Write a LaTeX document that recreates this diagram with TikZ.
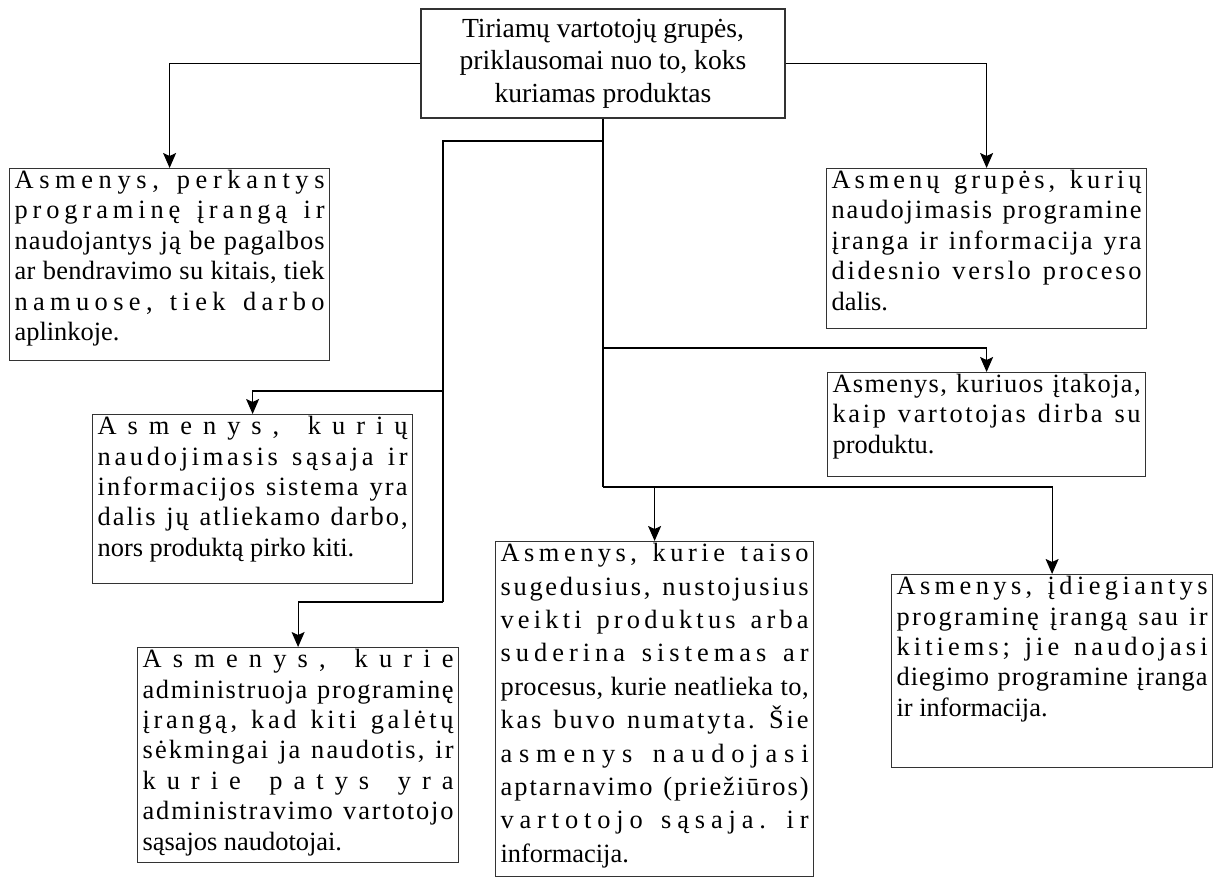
\documentclass[tikz,border=0pt]{standalone}
\usepackage{fontspec}
\setmainfont{Liberation Serif}
\usetikzlibrary{arrows.meta}

% A row of a justified paragraph: the extra room is shared out evenly
% between all characters (letters and spaces alike).
\ExplSyntaxOn
\tl_new:N \l__row_body_tl
\seq_new:N \l__row_words_seq
\bool_new:N \l__row_firstword_bool
\bool_new:N \l__row_firstchar_bool
\cs_new_protected:Npn \spreadrow #1
  {
    \tl_clear:N \l__row_body_tl
    \bool_set_true:N \l__row_firstword_bool
    \seq_set_split:Nnn \l__row_words_seq { ~ } { #1 }
    \seq_map_inline:Nn \l__row_words_seq
      {
        \bool_if:NF \l__row_firstword_bool
          { \tl_put_right:Nn \l__row_body_tl { \hfil \c_space_tl \hfil } }
        \bool_set_false:N \l__row_firstword_bool
        \bool_set_true:N \l__row_firstchar_bool
        \tl_map_inline:nn { ##1 }
          {
            \bool_if:NF \l__row_firstchar_bool
              { \tl_put_right:Nn \l__row_body_tl { \hfil } }
            \bool_set_false:N \l__row_firstchar_bool
            \tl_put_right:Nn \l__row_body_tl { ####1 }
          }
      }
    \hbox_to_wd:nn { \linewidth } { \rowstrut \l__row_body_tl }
  }
\ExplSyntaxOff
\newcommand\rowstrut{\rule{0pt}{10pt}}
\newcommand\plainrow[1]{\hbox to \linewidth{\rowstrut#1\hfil}}

\begin{document}
\begin{tikzpicture}[x=0.5pt,y=-0.5pt,
  wire/.style={line width=0.6pt, draw=black},
  arr/.style={wire, -{Stealth[length=7.5pt,width=6.5pt,inset=1.5pt]}},
  group/.style={draw=black!80, line width=0.6pt, inner xsep=2.5pt, inner ysep=0pt,
    anchor=north west, font=\fontsize{13.2}{15.2}\selectfont},
  rootbox/.style={draw=black!80, line width=0.6pt, minimum width=182pt,
    minimum height=54.5pt, inner sep=0pt, align=center,
    font=\fontsize{13.8}{15.2}\selectfont}]
\useasboundingbox (0,0) rectangle (1221,877);

% root of the tree
\node[rootbox] (top) at (603,63.5)
  {Tiriamų vartotojų grupės,\\[1pt]priklausomai nuo to, koks\\[1pt]kuriamas produktas};

% user groups
\node[group] (b1) at (9,168) {\parbox[c][96pt][t]{155pt}{%
  \spreadrow{Asmenys, perkantys}
  \spreadrow{programinę įrangą ir}
  \spreadrow{naudojantys ją be pagalbos}
  \spreadrow{ar bendravimo su kitais, tiek}
  \spreadrow{namuose, tiek darbo}
  \plainrow{aplinkoje.}}};

\node[group] (bR) at (826,168) {\parbox[c][80pt][t]{155pt}{%
  \spreadrow{Asmenų grupės, kurių}
  \spreadrow{naudojimasis programine}
  \spreadrow{įranga ir informacija yra}
  \spreadrow{didesnio verslo proceso}
  \plainrow{dalis.}}};

\node[group] (b2) at (92,414) {\parbox[c][84.5pt][t]{155pt}{%
  \spreadrow{Asmenys, kurių}
  \spreadrow{naudojimasis sąsaja ir}
  \spreadrow{informacijos sistema yra}
  \spreadrow{dalis jų atliekamo darbo,}
  \plainrow{nors produktą pirko kiti.}}};

\node[group] (b3) at (137,647) {\parbox[c][107.5pt][t]{155.5pt}{%
  \spreadrow{Asmenys, kurie}
  \spreadrow{administruoja programinę}
  \spreadrow{įrangą, kad kiti galėtų}
  \spreadrow{sėkmingai ja naudotis, ir}
  \spreadrow{kurie patys yra}
  \spreadrow{administravimo vartotojo}
  \plainrow{sąsajos naudotojai.}}};

\node[group] (b4) at (827,372) {\parbox[c][52pt][t]{154pt}{%
  \spreadrow{Asmenys, kuriuos įtakoja,}
  \spreadrow{kaip vartotojas dirba su}
  \plainrow{produktu.}}};

\node[group, font=\fontsize{13.2}{16.7}\selectfont] (b5) at (495,541)
  {\parbox[c][167.5pt][t]{154pt}{%
  \spreadrow{Asmenys, kurie taiso}
  \spreadrow{sugedusius, nustojusius}
  \spreadrow{veikti produktus arba}
  \spreadrow{suderina sistemas ar}
  \spreadrow{procesus, kurie neatlieka to,}
  \spreadrow{kas buvo numatyta. Šie}
  \spreadrow{asmenys naudojasi}
  \spreadrow{aptarnavimo (priežiūros)}
  \spreadrow{vartotojo sąsaja. ir}
  \plainrow{informacija.}}};

\node[group] (b6) at (891,574) {\parbox[c][96.5pt][t]{155.5pt}{%
  \spreadrow{Asmenys, įdiegiantys}
  \spreadrow{programinę įrangą sau ir}
  \spreadrow{kitiems; jie naudojasi}
  \spreadrow{diegimo programine įranga}
  \plainrow{ir informacija.}}};

% junction points of the connector tree
\coordinate (drop) at (top.south |- 0,487);
\coordinate (tapA) at (top.south |- 0,141);
\coordinate (tapB) at (top.south |- 0,348);
\coordinate (spine) at (443,141);
\coordinate (spineEnd) at (443,602);

% connectors
\draw[arr] (top.west) -| (b1.north);
\draw[arr] (top.east) -| (bR.north);
\draw[wire] (top.south) -- (drop);
\draw[arr] (drop) -| (b6.north);
\draw[arr] (drop -| b5.north) -- (b5.north);
\draw[arr] (tapB) -| (b4.north);
\draw[wire] (tapA) -- (spine) -- (spineEnd);
\draw[arr] (spine |- 0,391) -| (b2.north);
\draw[arr] (spineEnd) -| (b3.north);
\end{tikzpicture}
\end{document}
